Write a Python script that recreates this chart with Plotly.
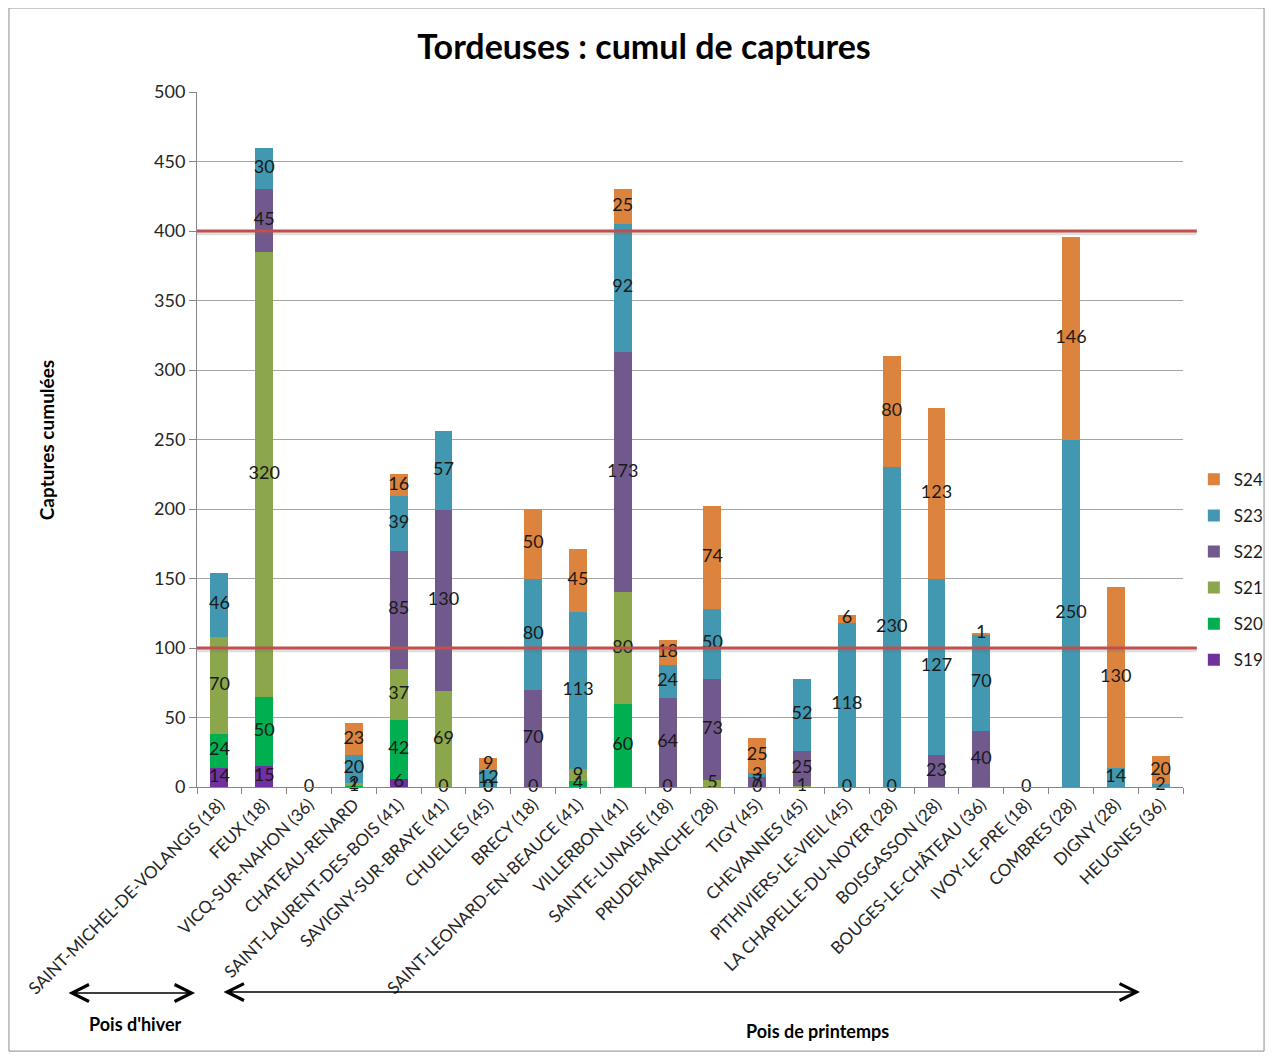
import plotly.graph_objects as go

categories = [
    "SAINT-MICHEL-DE-VOLANGIS (18)", "FEUX (18)", "VICQ-SUR-NAHON (36)", "CHATEAU-RENARD",
    "SAINT-LAURENT-DES-BOIS (41)", "SAVIGNY-SUR-BRAYE (41)", "CHUELLES (45)", "BRECY (18)",
    "SAINT-LEONARD-EN-BEAUCE (41)", "VILLERBON (41)", "SAINTE-LUNAISE (18)", "PRUDEMANCHE (28)",
    "TIGY (45)", "CHEVANNES (45)", "PITHIVIERS-LE-VIEIL (45)", "LA CHAPELLE-DU-NOYER (28)",
    "BOISGASSON (28)", "BOUGES-LE-CHÂTEAU (36)", "IVOY-LE-PRE (18)", "COMBRES (28)",
    "DIGNY (28)", "HEUGNES (36)",
]

S19 = [14, 15, 0, None, 6, 0, 0, 0, None, None, 0, None, 0, None, 0, 0, None, None, 0, None, None, None]
S20 = [24, 50, None, 1, 42, None, 0, None, 4, 60, None, None, None, None, None, None, None, None, None, None, None, None]
S21 = [70, 320, None, 2, 37, 69, None, None, 9, 80, None, 5, None, 1, None, None, None, None, None, None, None, None]
S22 = [None, 45, None, None, 85, 130, None, 70, None, 173, 64, 73, 7, 25, None, None, 23, 40, None, None, None, None]
S23 = [46, 30, None, 20, 39, 57, 12, 80, 113, 92, 24, 50, 3, 52, 118, 230, 127, 70, None, 250, 14, 2]
S24 = [None, None, None, 23, 16, None, 9, 50, 45, 25, 18, 74, 25, None, 6, 80, 123, 1, None, 146, 130, 20]

series_names = ["S19", "S20", "S21", "S22", "S23", "S24"]
series_values = [S19, S20, S21, S22, S23, S24]
series_colors = ["#7030A0", "#00B050", "#8BA64B", "#71598E", "#4298B0", "#DC833D"]

thresholds = [100, 400]

FONT = "Lato"

fig = go.Figure()
n = len(series_names)
for k, (name, vals, col) in enumerate(zip(series_names, series_values, series_colors)):
    fig.add_trace(go.Bar(
        x=categories, y=vals, name=name, marker=dict(color=col, line=dict(width=0)),
        legendgroup=name, legendrank=n - k, hoverinfo="x+y+name",
    ))

# data labels centred in each segment (computed from the data arrays)
lx, ly, lt = [], [], []
for i, c in enumerate(categories):
    base = 0
    for vals in series_values:
        v = vals[i]
        if v is None:
            continue
        lx.append(c)
        ly.append(base + v / 2)
        lt.append(str(v))
        base += v
fig.add_trace(go.Scatter(
    x=lx, y=ly, text=lt, mode="text", textposition="middle center",
    textfont=dict(family=FONT, size=18, color="#1a1a1a"), showlegend=False,
    hoverinfo="skip", cliponaxis=False,
))

for t in thresholds:
    fig.add_shape(type="line", xref="paper", yref="y", x0=0, x1=1.014, y0=t - 1.2, y1=t - 1.2,
                  line=dict(color="rgba(110,110,110,0.22)", width=5), layer="above")
    fig.add_shape(type="line", xref="paper", yref="y", x0=0, x1=1.014, y0=t, y1=t,
                  line=dict(color="#C0504D", width=3), layer="above")

# chart border
fig.add_shape(type="rect", xref="paper", yref="paper", x0=-0.1907, x1=1.0822, y0=-0.3800, y1=1.1209,
              line=dict(color="#8c8c8c", width=1), layer="below")

arrow_common = dict(showarrow=True, arrowside="end+start", arrowhead=5, startarrowhead=5,
                    arrowwidth=1.5, arrowsize=2.2, startarrowsize=2.2, arrowcolor="#000000",
                    text="", xref="paper", yref="paper", standoff=0, startstandoff=0)

annotations = [
    dict(text="Captures cumulées", xref="paper", yref="paper", x=-0.1531, y=0.499, textangle=-90,
         xanchor="center", yanchor="middle", showarrow=False,
         font=dict(family=FONT, size=19, color="#000000", weight="bold")),
    dict(x=-0.002, y=-0.2964, ax=-128, ay=0, **arrow_common),
    dict(x=0.9564, y=-0.2950, ax=-918, ay=0, **arrow_common),
    dict(text="Pois d'hiver", xref="paper", yref="paper", x=-0.0629, y=-0.341, showarrow=False,
         xanchor="center", yanchor="middle",
         font=dict(family=FONT, size=18, color="#000000", weight="bold")),
    dict(text="Pois de printemps", xref="paper", yref="paper", x=0.6298, y=-0.351, showarrow=False,
         xanchor="center", yanchor="middle",
         font=dict(family=FONT, size=18, color="#000000", weight="bold")),
]

fig.update_layout(
    width=1258, height=1045,
    barmode="stack", bargap=0.6,
    plot_bgcolor="white", paper_bgcolor="white",
    margin=dict(l=189, r=83, t=84, b=266, autoexpand=False),
    title=dict(text="Tordeuses : cumul de captures", x=0.5056, y=0.9627, xref="container", yref="container",
               xanchor="center", yanchor="middle",
               font=dict(family=FONT, size=34, color="#000000", weight="bold")),
    legend=dict(x=1.011, y=0.468, xanchor="left", yanchor="top", traceorder="grouped",
                tracegroupgap=11, font=dict(family=FONT, size=17, color="#1a1a1a"),
                itemwidth=30, bgcolor="rgba(0,0,0,0)"),
    annotations=annotations,
    font=dict(family=FONT),
    xaxis=dict(range=[-0.5, len(categories) - 0.5], showgrid=False, tickangle=-45, tickson="boundaries",
               ticks="outside", ticklen=6,
               tickcolor="#868686", showline=True, linecolor="#868686", linewidth=1,
               tickfont=dict(family=FONT, size=17, color="#262626"), fixedrange=True),
    yaxis=dict(range=[0, 500], dtick=50, showgrid=True, gridcolor="#a6a6a6", gridwidth=1,
               ticks="outside", ticklen=7, tickcolor="#868686", showline=True, linecolor="#868686",
               tickfont=dict(family=FONT, size=18, color="#262626"), zeroline=False, fixedrange=True),
)

fig.write_html("out.html")
